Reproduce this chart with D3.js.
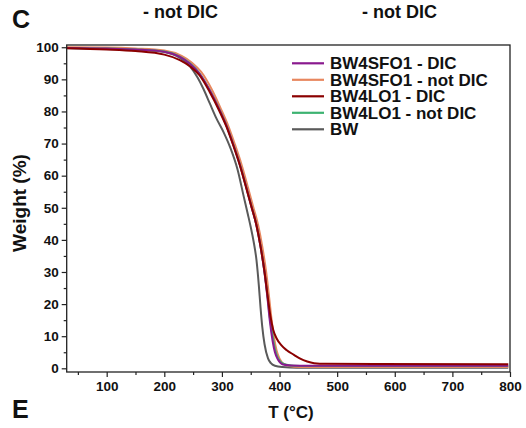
<!DOCTYPE html>
<html lang="en">
<head>
<meta charset="utf-8">
<title>TGA curves</title>
<script src="https://d3js.org/d3.v7.min.js"></script>
<style>
  body { margin: 0; background: #fff; }
  text { font-family: "Liberation Sans", Arial, sans-serif; font-weight: bold; fill: #111; }
</style>
</head>
<body>
<script>
// series data, T in degC and weight in %
var names = ["BW4SFO1 - DIC", "BW4SFO1 - not DIC", "BW4LO1 - DIC", "BW4LO1 - not DIC", "BW"];
var colors = ["#8a1a8e", "#e8875f", "#8b0000", "#3db371", "#5a5a5a"];

var tPurple = [30, 100, 150, 200, 227, 245, 261, 279, 296, 308, 319, 331, 342, 351, 360, 367, 374, 379, 383, 388, 392, 397, 406, 420, 450, 797];
var wPurple = [99.8, 99.6, 99.3, 98.6, 97, 94.8, 91.8, 86.5, 80.4, 75.5, 70, 63.5, 56.5, 50.5, 44.5, 38, 29.7, 22, 15, 8.5, 5, 2.8, 1.2, 0.9, 0.8, 0.8];

var tOrange = [30, 100, 150, 200, 230, 248, 264, 282, 299, 311, 322, 334, 345, 354, 363, 370, 377, 382, 386, 391, 395, 400, 409, 425, 450, 797];
var wOrange = [100, 99.9, 99.6, 99.0, 97.3, 95.2, 92.3, 87, 80.5, 75.5, 70, 63.5, 56.5, 50.5, 44.5, 38, 29.7, 22, 15.5, 9, 5.5, 3, 1.2, 0.5, 0.4, 0.4];

var tRed = [30, 100, 150, 200, 227, 245, 261, 279, 296, 308, 319, 331, 342, 351, 360, 367, 374, 379, 384, 389, 395, 403, 412, 425, 435, 448, 460, 480, 797];
var wRed = [99.7, 99.3, 98.8, 97.7, 96, 94, 91.3, 86, 80, 75.2, 69.8, 63.3, 56.3, 50.5, 44.5, 38, 30, 23, 16.5, 12, 9.3, 7.2, 5.7, 4.2, 3.1, 2.1, 1.6, 1.4, 1.3];

var tGreen = [30, 100, 150, 200, 227, 245, 261, 279, 296, 308, 319, 331, 342, 351, 360, 367, 374, 379, 383, 388, 392, 397, 402, 410, 425, 450, 797];
var wGreen = [99.8, 99.6, 99.3, 98.7, 97.1, 94.9, 91.9, 86.6, 80.5, 75.6, 70.1, 63.6, 56.6, 50.6, 44.6, 38.1, 29.8, 22.5, 16, 10, 6, 3.2, 2, 1.2, 0.8, 0.7, 0.7];

var tGrey = [30, 100, 150, 200, 227, 245, 258, 268, 279, 290, 303, 315, 327, 338, 345, 350, 355, 360, 364, 367, 370, 374, 380, 385, 392, 405, 430, 797];
var wGrey = [99.8, 99.6, 99.3, 98.5, 96.7, 94, 90.5, 87, 82.5, 78, 73.5, 68.5, 62, 53.4, 48, 44, 39.5, 33.7, 26, 19, 13, 7.5, 3.1, 1.6, 0.8, 0.4, 0.2, 0.2];

var xTicks = [100, 200, 300, 400, 500, 600, 700, 800];
var xMinor = [50, 150, 250, 350, 450, 550, 650, 750];
var yTicks = [0, 10, 20, 30, 40, 50, 60, 70, 80, 90, 100];
var yMinor = [5, 15, 25, 35, 45, 55, 65, 75, 85, 95];

var w = 526, h = 428;
var pLeft = 66.7, pRight = 510, pTop = 45, pBottom = 372;

var svg = d3.select("body").append("svg")
    .attr("width", w)
    .attr("height", h);

var x = d3.scaleLinear().domain([30.6, 800]).range([pLeft, pRight]);
var y = d3.scaleLinear().domain([-1.15, 100.7]).range([pBottom, pTop]);

function zip(t, v) {
    return t.map(function(d, i) { return [d, v[i]]; });
}
var series = [zip(tPurple, wPurple), zip(tOrange, wOrange), zip(tRed, wRed), zip(tGreen, wGreen), zip(tGrey, wGrey)];

var line = d3.line()
    .x(function(d) { return x(d[0]); })
    .y(function(d) { return y(d[1]); })
    .curve(d3.curveMonotoneX);

// draw order: grey, orange, green, purple, dark red on top
var order = [4, 1, 3, 0, 2];
svg.append("g").selectAll("path")
    .data(order)
    .enter()
    .append("path")
    .attr("d", function(i) { return line(series[i]); })
    .attr("fill", "none")
    .attr("stroke", function(i) { return colors[i]; })
    .attr("stroke-width", 2);

// frame
svg.append("rect")
    .attr("x", pLeft).attr("y", pTop)
    .attr("width", pRight - pLeft).attr("height", pBottom - pTop)
    .attr("fill", "none").attr("stroke", "#222").attr("stroke-width", 1.3);

// axes
svg.append("g")
    .attr("transform", "translate(0," + pBottom + ")")
    .call(d3.axisBottom(x).tickValues(xTicks).tickSize(5).tickPadding(4));
svg.append("g")
    .attr("transform", "translate(0," + pBottom + ")")
    .call(d3.axisBottom(x).tickValues(xMinor).tickSize(3).tickFormat(""));
svg.append("g")
    .attr("transform", "translate(" + pLeft + ",0)")
    .call(d3.axisLeft(y).tickValues(yTicks).tickSize(5).tickPadding(3));
svg.append("g")
    .attr("transform", "translate(" + pLeft + ",0)")
    .call(d3.axisLeft(y).tickValues(yMinor).tickSize(3).tickFormat(""));

svg.selectAll(".domain").remove();
svg.selectAll(".tick line").attr("stroke", "#222").attr("stroke-width", 1.2);
svg.selectAll(".tick text")
    .attr("font-family", "Liberation Sans, Arial, sans-serif")
    .attr("font-weight", "bold")
    .attr("font-size", "13.5px")
    .attr("fill", "#111");

// axis titles
svg.append("text")
    .attr("x", 291).attr("y", 418)
    .attr("text-anchor", "middle")
    .attr("font-size", "17px")
    .text("T (°C)");
svg.append("text")
    .attr("transform", "translate(26,203) rotate(-90)")
    .attr("text-anchor", "middle")
    .attr("font-size", "19px")
    .text("Weight (%)");

// legend
var legend = svg.append("g").selectAll("g")
    .data(names)
    .enter()
    .append("g")
    .attr("transform", function(d, i) { return "translate(0," + (63.3 + i * 16.5) + ")"; });
legend.append("line")
    .attr("x1", 292).attr("x2", 324)
    .attr("stroke", function(d, i) { return colors[i]; })
    .attr("stroke-width", 2.2);
legend.append("text")
    .attr("x", 330).attr("y", 6)
    .attr("font-size", "17px")
    .text(function(d) { return d; });

// panel labels and headers
svg.append("text").attr("x", 12).attr("y", 28).attr("font-size", "25px").text("C");
svg.append("text").attr("x", 12).attr("y", 418).attr("font-size", "25px").text("E");
svg.append("text").attr("x", 143).attr("y", 18).attr("font-size", "18px").text("- not DIC");
svg.append("text").attr("x", 362).attr("y", 18).attr("font-size", "18px").text("- not DIC");
</script>
</body>
</html>
